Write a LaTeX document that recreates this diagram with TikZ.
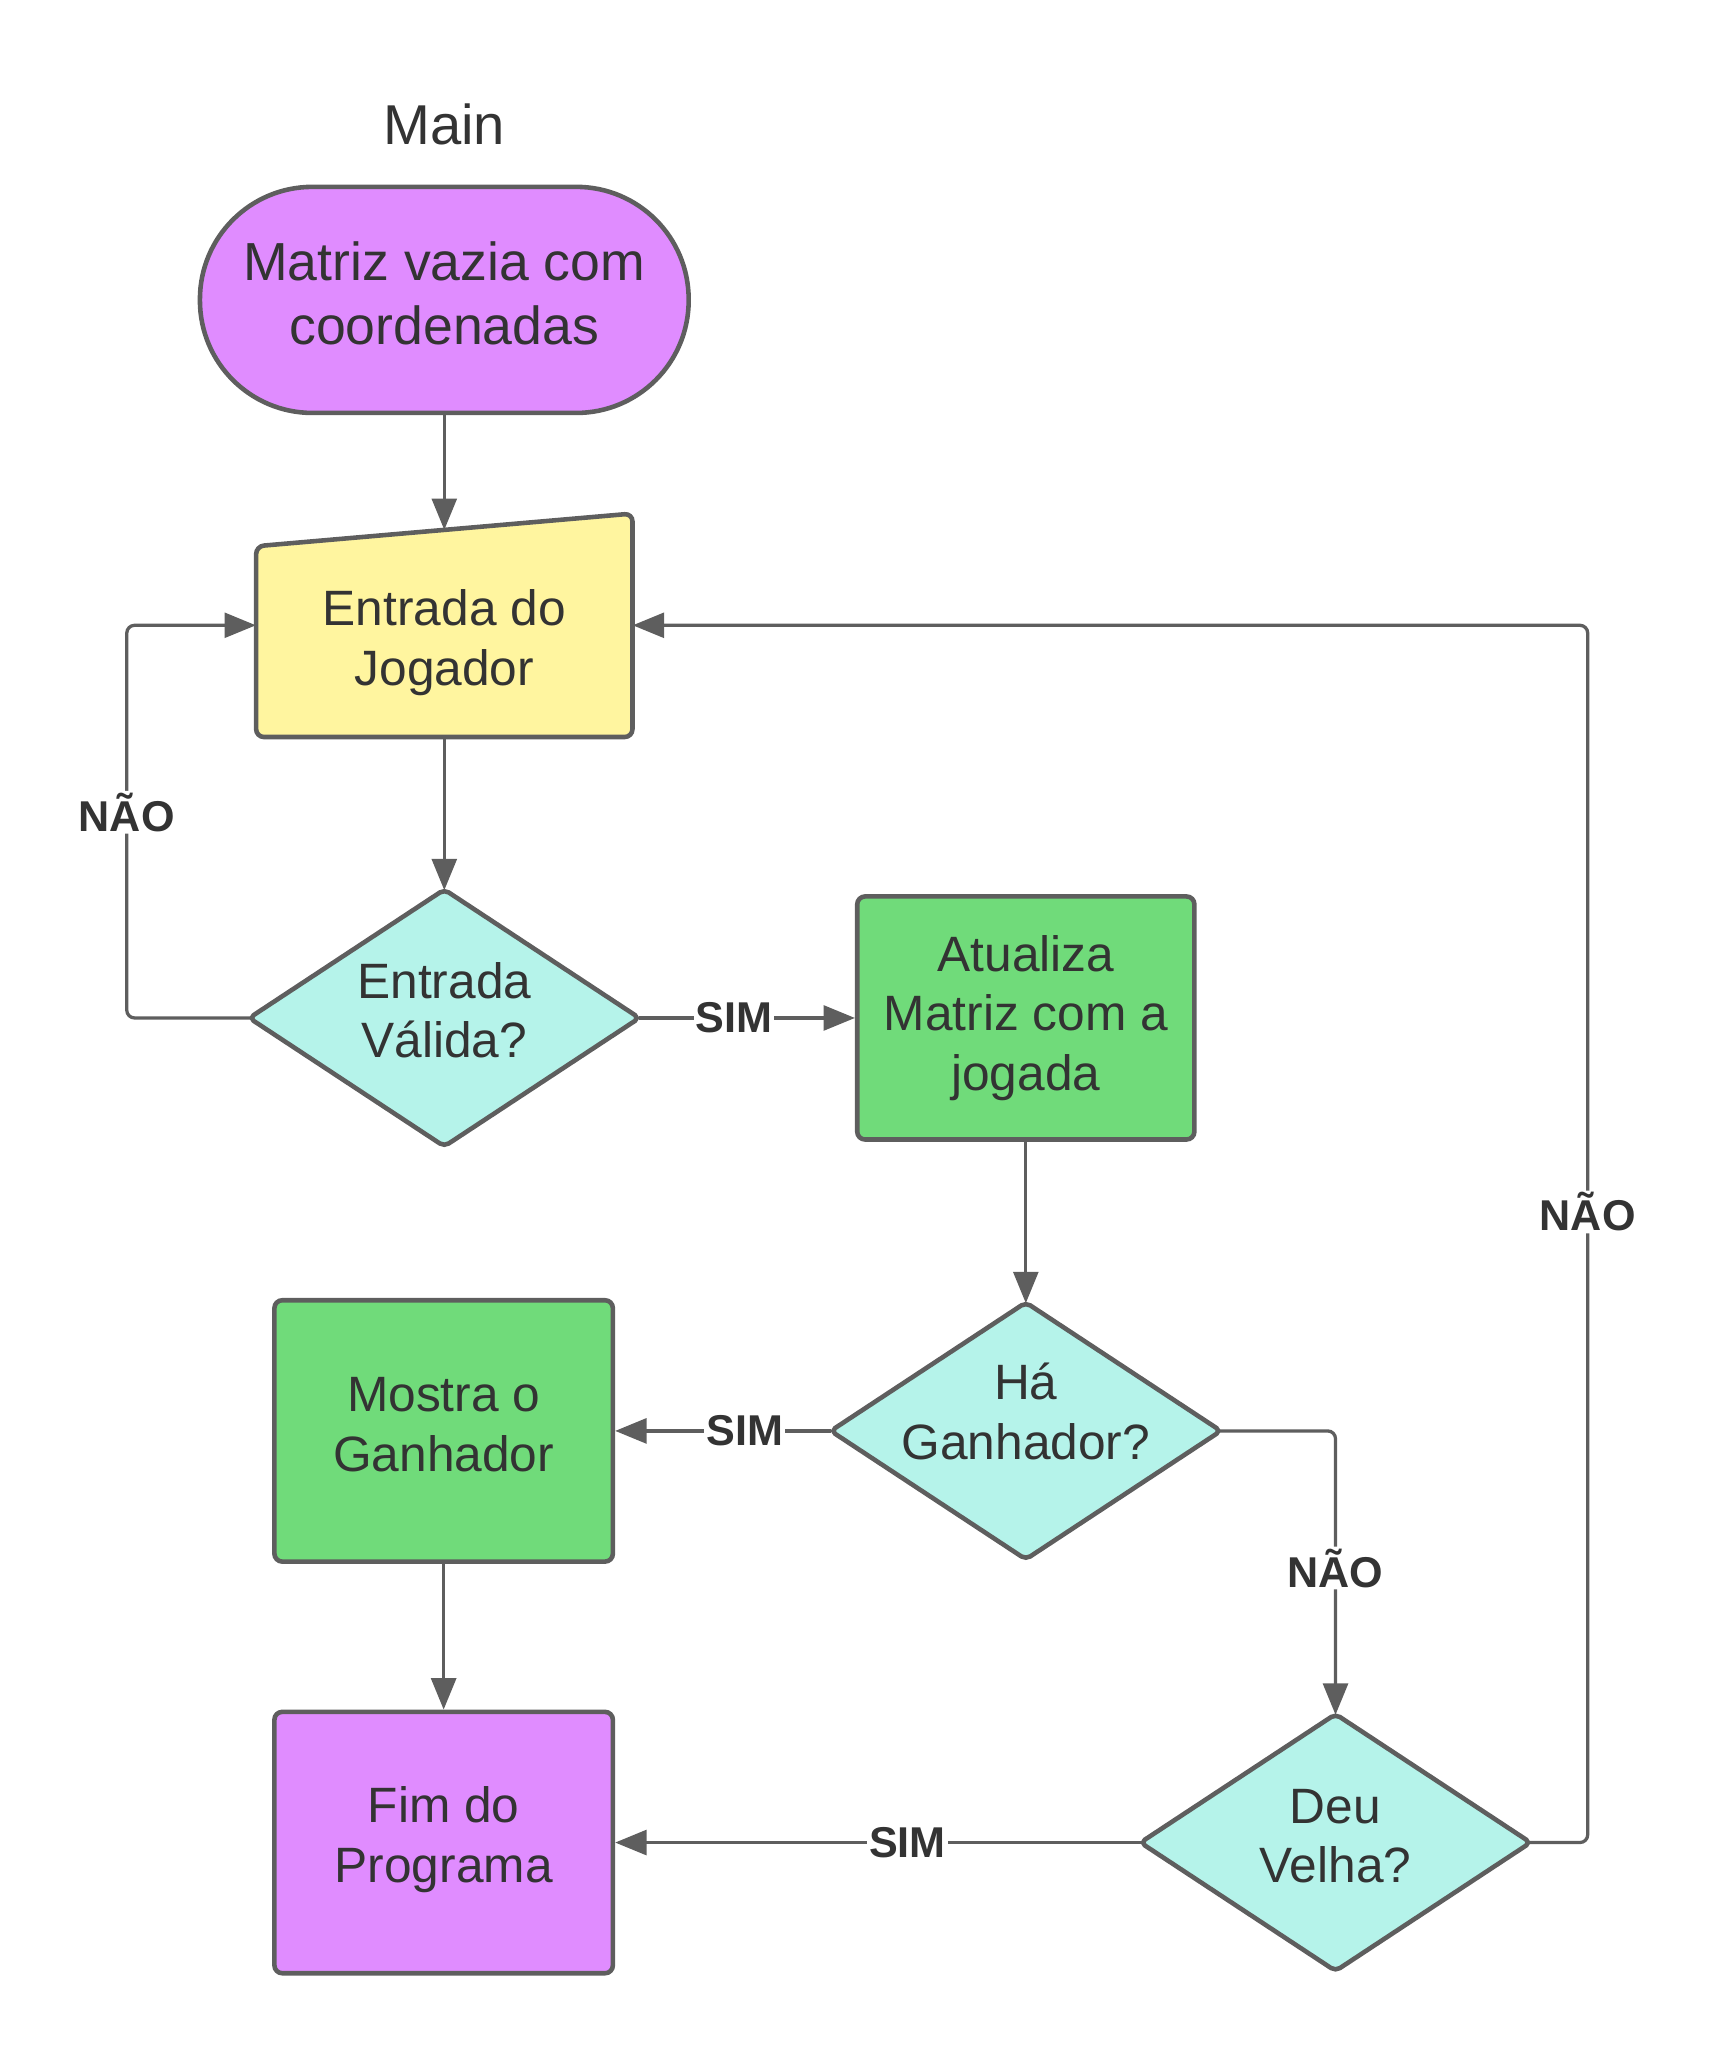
\documentclass[tikz,border=0pt]{standalone}
\usepackage{fontspec}
\setmainfont{Liberation Sans}
\usetikzlibrary{shapes.geometric,arrows.meta}
\definecolor{bord}{HTML}{5E5E5E}
\definecolor{txtc}{HTML}{333333}
\definecolor{purp}{HTML}{E08CFF}
\definecolor{yell}{HTML}{FFF59F}
\definecolor{gree}{HTML}{70DB7A}
\definecolor{cyan}{HTML}{B5F3EA}
\tikzset{
  shp/.style={draw=bord, line width=3.5pt, text=txtc, align=center, inner sep=0pt,
    font=\fontsize{38}{45.6}\selectfont},
  procbox/.style={shp, rectangle, rounded corners=6pt, minimum width=259pt, minimum height=200pt},
  dia/.style={shp, diamond, rounded corners=4pt, minimum width=300pt, minimum height=198pt},
  dtxt/.style={text=txtc, align=center, font=\fontsize{38}{45.6}\selectfont},
  conn/.style={draw=bord, line width=2.5pt, -{Triangle[length=24pt,width=19pt]}},
  fromdia/.style={shorten <=-3pt},
  todia/.style={shorten >=-3pt},
  lbl/.style={fill=white, text=txtc, inner sep=1.5pt, font=\fontsize{33}{40}\selectfont\bfseries}
}
\begin{document}
\begin{tikzpicture}[x=1pt,y=-1pt]
\useasboundingbox (0,0) rectangle (1312,1568);
% title
\node[text=txtc, font=\fontsize{43}{52}\selectfont] (title) at (340,95) {Main};
% terminal
\node[shp, fill=purp, rectangle, rounded corners=86pt, minimum width=374pt, minimum height=173pt] (start) at (340,229.5) {};
\node[dtxt, font=\fontsize{41}{49.5}\selectfont] (startt) at (340,224.5) {Matriz vazia com\\coordenadas};
% manual input
\node[minimum width=288pt, minimum height=171pt, inner sep=0pt] (inp) at (340,478.5) {};
\draw[draw=bord, line width=3.5pt, fill=yell, rounded corners=6pt]
  (196,418) -- (484,393) -- (484,564) -- (196,564) -- cycle;
\node[dtxt] (inptxt) at (340,492) {Entrada do\\Jogador};
\coordinate (inptop) at (340,405.5);
% decisions and processes
\node[dia, fill=cyan] (d1) at (340,779) {};
\node[dtxt] (d1t) at (340,773) {Entrada\\Válida?};
\node[procbox, fill=gree, minimum width=258pt, minimum height=186pt] (atu) at (785,779) {Atualiza\\Matriz com a\\jogada};
\node[dia, fill=cyan] (d2) at (785,1095) {};
\node[dtxt] (d2t) at (785,1080) {Há\\Ganhador?};
\node[procbox, fill=gree] (most) at (339.5,1095) {};
\node[dtxt] (mostt) at (339.5,1090) {Mostra o\\Ganhador};
\node[procbox, fill=purp] (fim) at (339.5,1410) {};
\node[dtxt] (fimt) at (339.5,1408) {Fim do\\Programa};
\node[dia, fill=cyan] (d3) at (1022,1410) {};
\node[dtxt] (d3t) at (1022,1405) {Deu\\Velha?};
% connectors
\draw[conn] (start.south) -- (inptop);
\draw[conn, todia] (inp.south) -- (d1.north);
\draw[conn, fromdia] (d1.east) -- node[lbl, pos=0.43] {SIM} (atu.west);
\draw[conn, fromdia, rounded corners=6pt] (d1.west) -- (97,779) |- node[lbl, pos=0.262] {NÃO} (inp.west);
\draw[conn, todia] (atu.south) -- (d2.north);
\draw[conn, fromdia] (d2.west) -- node[lbl, pos=0.39] {SIM} (most.east);
\draw[conn, fromdia, todia, rounded corners=6pt] (d2.east) -| node[lbl, pos=0.745] {NÃO} (d3.north);
\draw[conn] (most.south) -- (fim.north);
\draw[conn, fromdia] (d3.west) -- node[lbl, pos=0.44] {SIM} (fim.east);
\draw[conn, fromdia, rounded corners=6pt] (d3.east) -- (1215,1410) |- node[lbl, pos=0.259] {NÃO} (inp.east);
\end{tikzpicture}
\end{document}
